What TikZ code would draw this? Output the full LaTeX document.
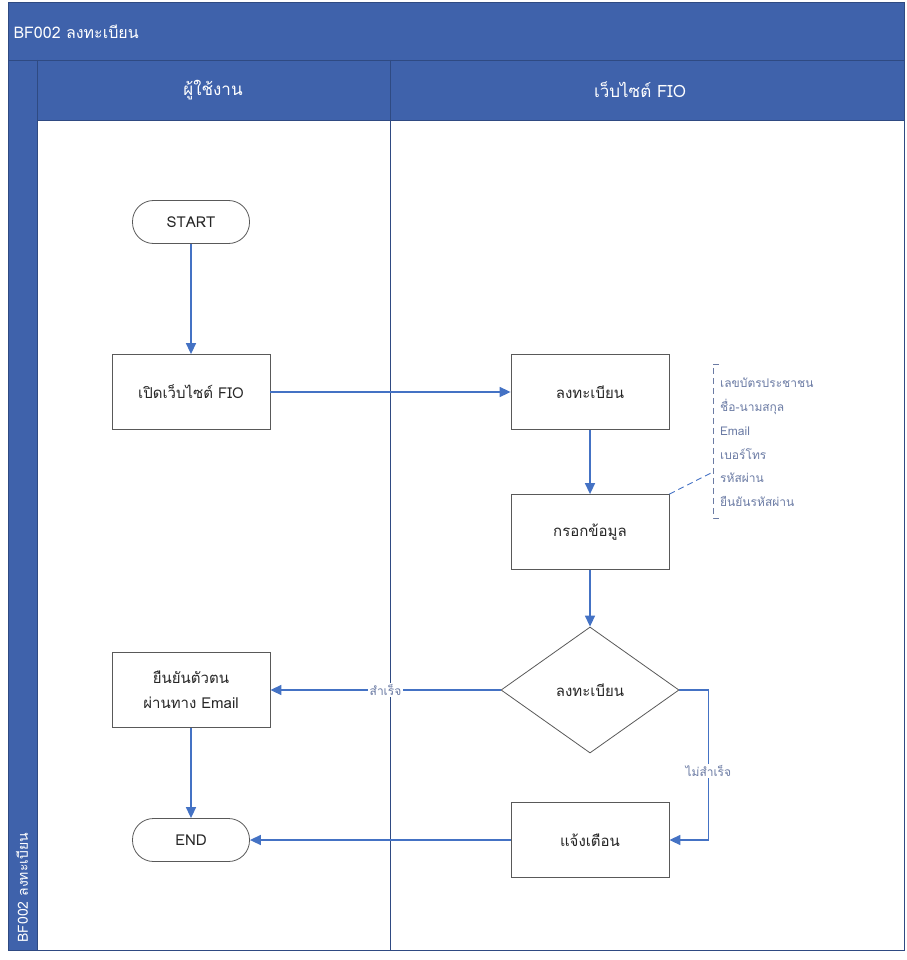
\documentclass[tikz,border=0pt]{standalone}
\usepackage{fontspec}
\setmainfont[Script=Thai]{Loma}
\usetikzlibrary{shapes.geometric,arrows.meta}
\definecolor{lanebg}{HTML}{3F62AB}
\definecolor{laneline}{HTML}{2F4A82}
\definecolor{flow}{HTML}{4472C4}
\definecolor{boxline}{HTML}{595959}
\definecolor{notetext}{HTML}{6B7BA4}
\tikzset{
  procbox/.style={draw=boxline,line width=0.8pt,fill=white,minimum width=158pt,minimum height=75pt,align=center,text=black!85,font=\fontsize{15}{25}\selectfont},
  termbox/.style={draw=boxline,line width=0.8pt,fill=white,rounded corners=21pt,minimum width=117pt,minimum height=43pt,text=black!85,font=\fontsize{15}{18}\selectfont},
  decbox/.style={draw=boxline,line width=0.8pt,fill=white,diamond,inner sep=0pt,minimum width=178pt,minimum height=126pt,text=black!85,font=\fontsize{15}{18}\selectfont},
  flowarrow/.style={draw=flow,line width=1.5pt,-{Triangle[length=11pt,width=10pt]}},
  notedash/.style={line width=0.9pt,dash pattern=on 6pt off 4pt},
  notetxt/.style={anchor=west,text=notetext,inner sep=0pt,font=\fontsize{12}{14}\selectfont},
  flowlabel/.style={fill=white,text=notetext,inner sep=1.5pt,font=\fontsize{12}{14}\selectfont}
}
\begin{document}
\begin{tikzpicture}[x=1pt,y=-1pt]
\useasboundingbox (0,0) rectangle (906,960);
\fill[lanebg] (8,2) rectangle (904,120);
\fill[lanebg] (8,2) rectangle (37,950);
\draw[laneline,line width=0.8pt] (8,2) rectangle (904,950) (8,60)--(904,60) (37,60)--(37,950) (37,120)--(904,120) (390,60)--(390,950);
\node[anchor=west,text=white,font=\fontsize{16}{18}\selectfont] (title) at (10,32) {BF002 ลงทะเบียน};
\node[anchor=west,rotate=90,text=white,font=\fontsize{14}{16}\selectfont] (sidetitle) at (22,946) {BF002 ลงทะเบียน};
\node[text=white,font=\fontsize{17}{20}\selectfont] (laneuser) at (213,90) {ผู้ใช้งาน};
\node[text=white,font=\fontsize{17}{20}\selectfont] (laneweb) at (640,90) {เว็บไซต์ FIO};
\node[termbox] (start) at (191,222) {START};
\node[procbox] (open) at (191,392) {เปิดเว็บไซต์ FIO};
\node[procbox] (reg) at (590,392) {ลงทะเบียน};
\node[procbox] (fill) at (590,532) {กรอกข้อมูล};
\node[decbox] (check) at (590,690) {ลงทะเบียน};
\node[procbox] (verify) at (191,690) {ยืนยันตัวตน\\ผ่านทาง Email};
\node[termbox] (end) at (191,840) {END};
\node[procbox] (warn) at (590,840) {แจ้งเตือน};
\draw[notetext,notedash] (719,364)--(713,364)--(713,518)--(719,518);
\coordinate (notein) at (713,472);
\foreach \ny/\ntxt [count=\ni] in {383/เลขบัตรประชาชน,407/ชื่อ-นามสกุล,431/Email,454/เบอร์โทร,478/รหัสผ่าน,501/ยืนยันรหัสผ่าน}{\node[notetxt] (note\ni) at (720,\ny) {\ntxt};}
\draw[flow,notedash] (fill.north east)--(notein);
\draw[flowarrow] (start)--(open);
\draw[flowarrow] (open)--(reg);
\draw[flowarrow] (reg)--(fill);
\draw[flowarrow] (fill)--(check);
\draw[flowarrow] (check.west)--(verify.east) node[flowlabel,pos=0.5] {สำเร็จ};
\draw[flowarrow] (check.east)--++(29,0) coordinate (bend)--(bend |- warn.east) node[flowlabel,pos=0.54] {ไม่สำเร็จ}--(warn.east);
\draw[flowarrow] (warn)--(end);
\draw[flowarrow] (verify)--(end);
\end{tikzpicture}
\end{document}
